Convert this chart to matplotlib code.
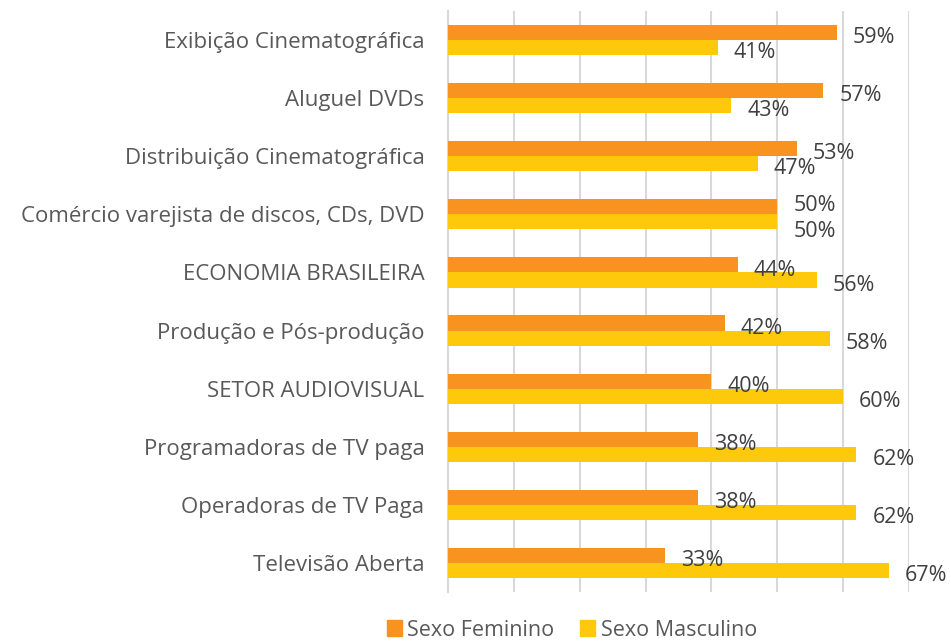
import numpy as np
import matplotlib
matplotlib.use('Agg')
import matplotlib.pyplot as plt
from matplotlib.patches import Patch

plt.rcParams['font.family'] = ['Open Sans', 'DejaVu Sans']

categorias = ['Exibição Cinematográfica', 'Aluguel DVDs', 'Distribuição Cinematográfica',
              'Comércio varejista de discos, CDs, DVD', 'ECONOMIA BRASILEIRA',
              'Produção e Pós-produção', 'SETOR AUDIOVISUAL', 'Programadoras de TV paga',
              'Operadoras de TV Paga', 'Televisão Aberta']
feminino = [59, 57, 53, 50, 44, 42, 40, 38, 38, 33]
masculino = [41, 43, 47, 50, 56, 58, 60, 62, 62, 67]

cor_fem = '#F7931E'
cor_masc = '#FFC90B'
cor_texto = '#595959'
cor_valor = '#404040'

fig = plt.figure(figsize=(9.51, 6.41), dpi=100)
ax = fig.add_axes([448/951, 1 - 592/641, (909 - 448)/951, (592 - 11)/641])

y = np.arange(len(categorias))
h = 0.26

ax.barh(y - h/2, feminino, height=h, color=cor_fem, zorder=3)
ax.barh(y + h/2, masculino, height=h, color=cor_masc, zorder=3)

# rotulos: linha de base um pouco abaixo do centro da barra;
# no par 50/50 os rotulos se afastam para nao se sobreporem
for i in range(len(categorias)):
    d_fem, d_masc = (-4.5, 3.5) if feminino[i] == masculino[i] else (0, 0)
    ax.annotate(f'{feminino[i]}%', (feminino[i], y[i] - h/2), xytext=(11.5, -7.7 - d_fem),
                textcoords='offset points', va='baseline', ha='left',
                fontsize=15.5, color=cor_valor, zorder=4)
    ax.annotate(f'{masculino[i]}%', (masculino[i], y[i] + h/2), xytext=(11.5, -7.7 - d_masc),
                textcoords='offset points', va='baseline', ha='left',
                fontsize=15.5, color=cor_valor, zorder=4)

ax.set_xlim(0, 70)
ax.set_ylim(len(categorias) - 0.5, -0.5)
ax.set_xticks(np.arange(0, 71, 10))
ax.set_xticklabels([])
ax.set_yticks(y)
ax.set_yticklabels(categorias, fontsize=16, color=cor_texto)
ax.tick_params(axis='both', length=0)
ax.tick_params(axis='y', pad=17)
ax.grid(axis='x', color='#D9D9D9', linewidth=1.5, zorder=0)
for s in ['top', 'right', 'bottom']:
    ax.spines[s].set_visible(False)
ax.spines['left'].set_color('#D9D9D9')
ax.spines['left'].set_linewidth(1.5)

handles = [Patch(color=cor_fem, label='Sexo Feminino'),
           Patch(color=cor_masc, label='Sexo Masculino')]
fig.legend(handles=handles, loc='center', bbox_to_anchor=(572/951, 1 - 630/641), ncol=2,
           frameon=False, fontsize=15.5, labelcolor=cor_texto, handlelength=0.7,
           handleheight=0.7, handletextpad=0.25, columnspacing=1.2,
           borderpad=0, borderaxespad=0)

fig.savefig('out.png', dpi=100)
